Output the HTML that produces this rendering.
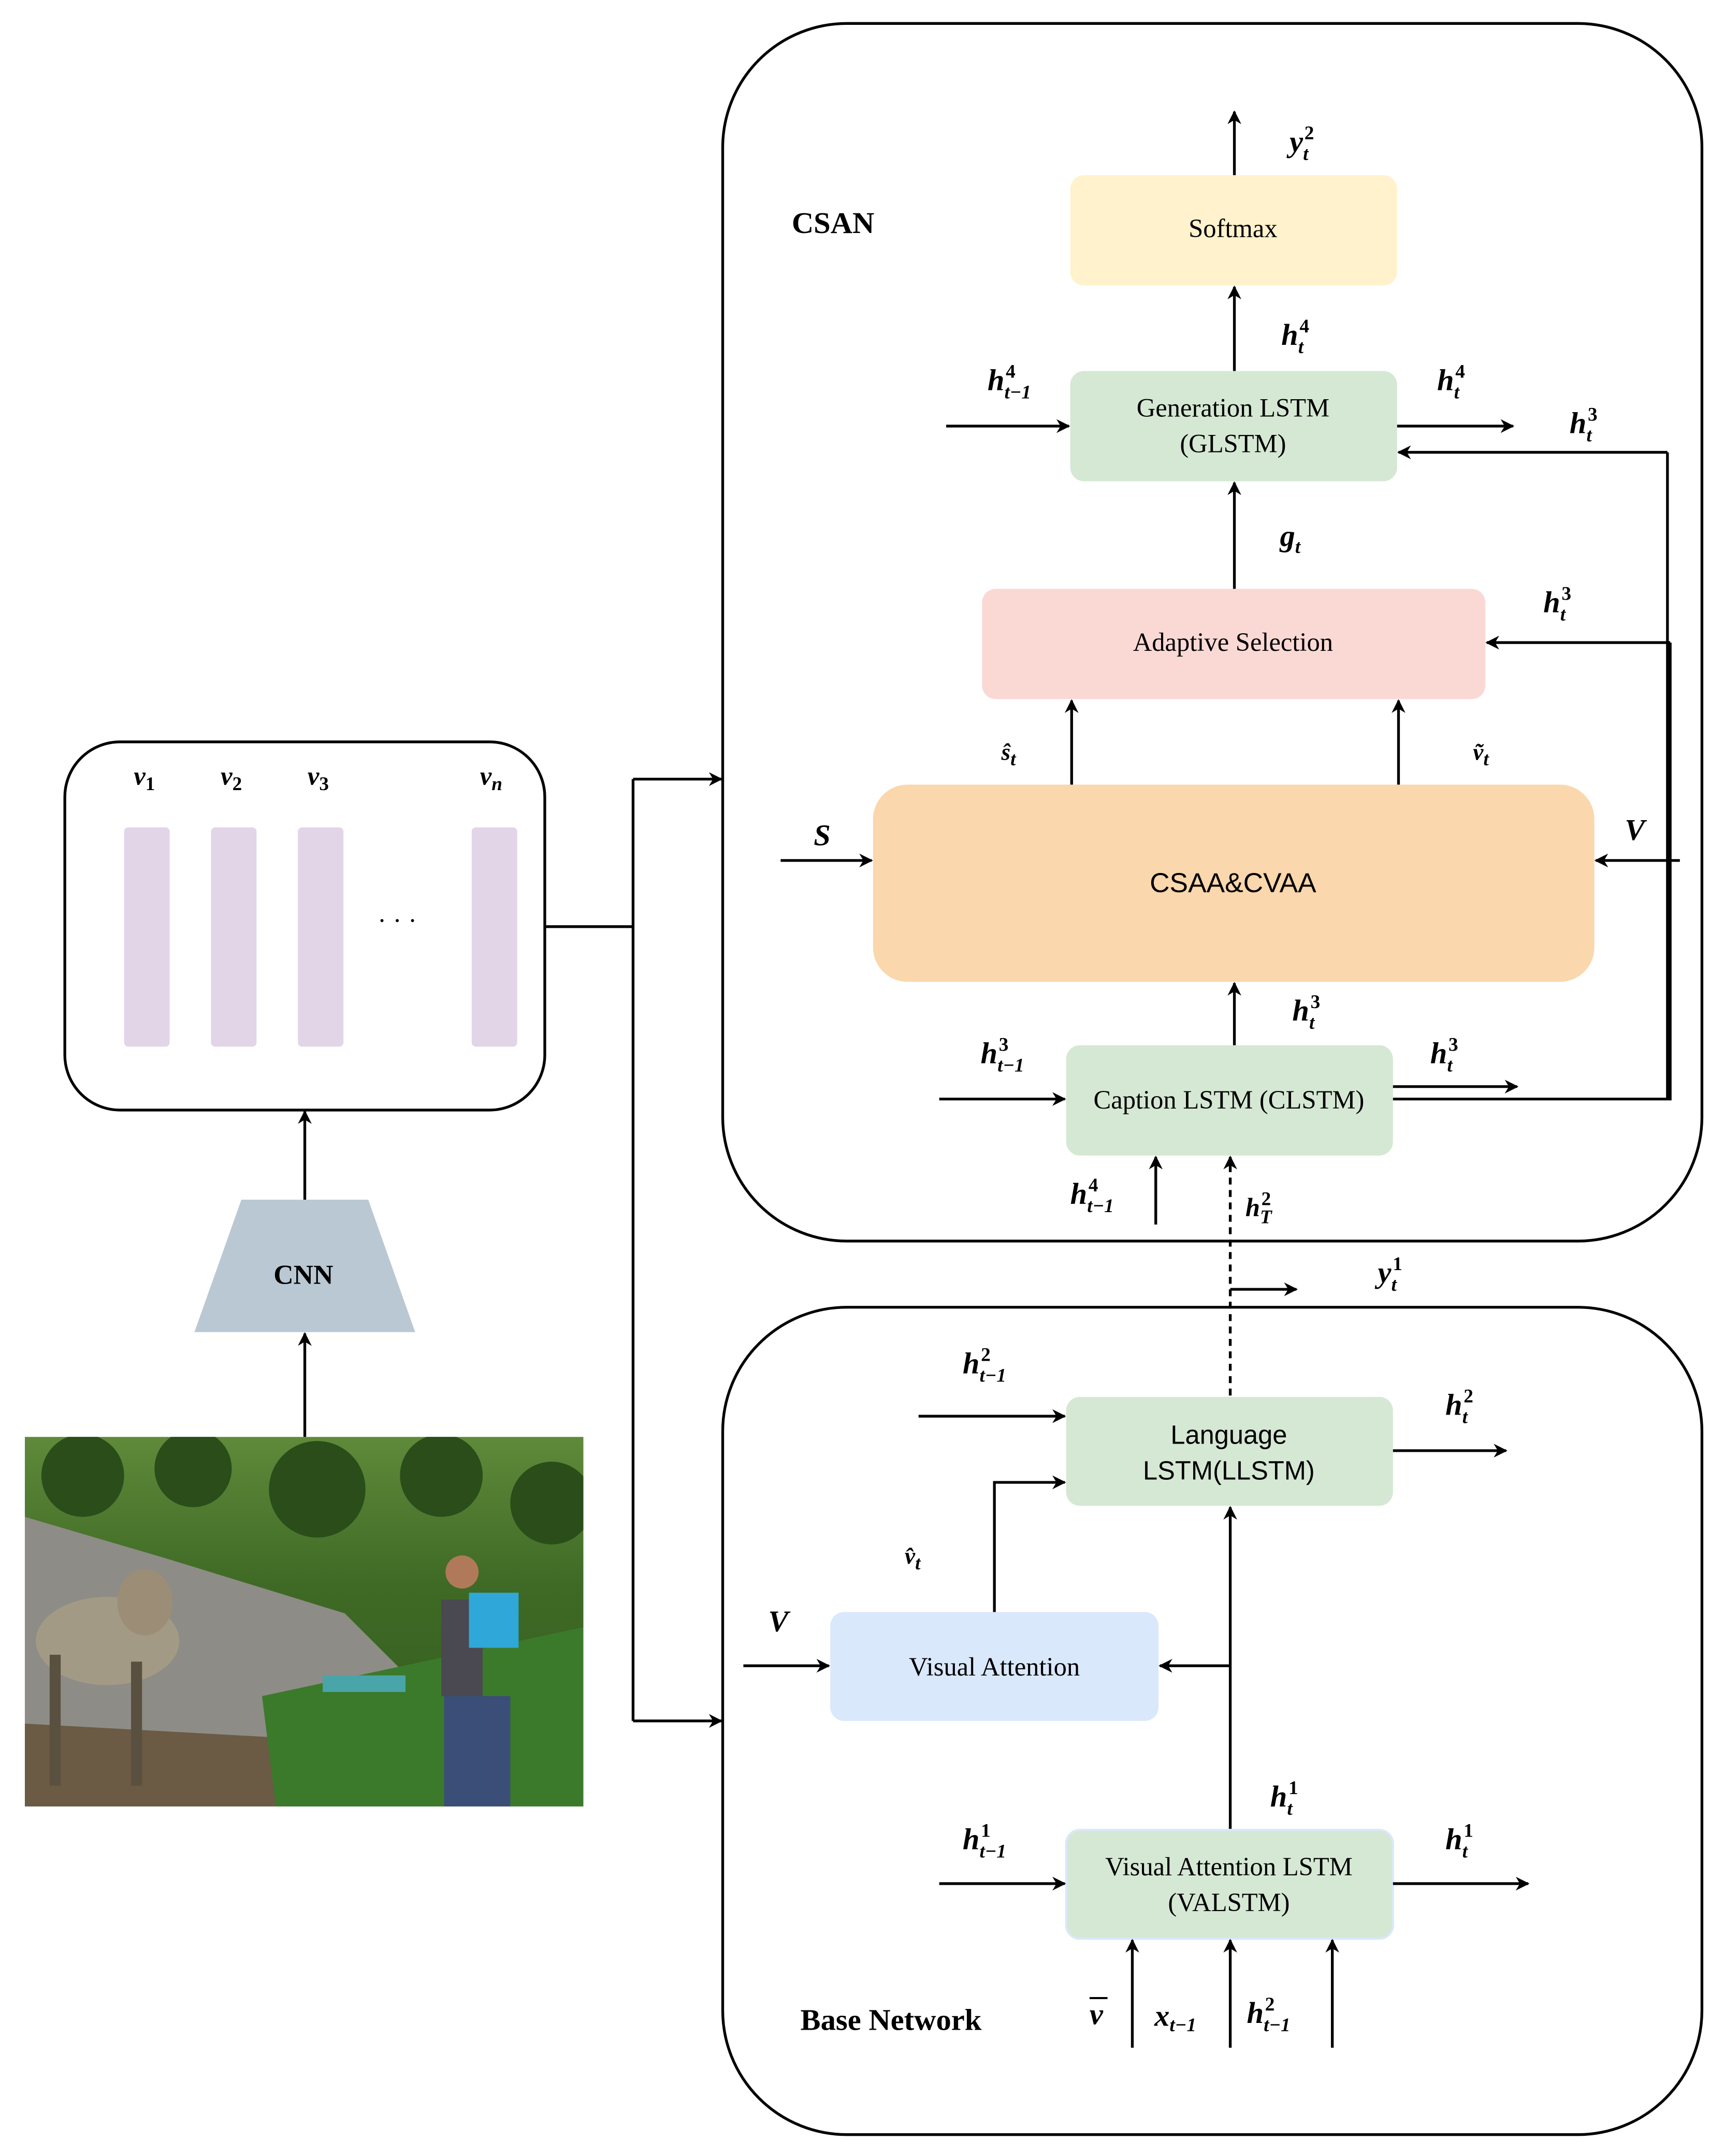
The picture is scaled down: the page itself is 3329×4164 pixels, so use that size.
<!DOCTYPE html>
<html><head><meta charset="utf-8"><style>
html,body{margin:0;padding:0;background:#fff}
svg{display:block}
.m{font-family:"Liberation Serif",serif;font-style:italic;font-weight:bold;font-size:22px}
.s{font-size:14px;font-style:italic}
.n{font-size:14px;font-style:normal}
.t{font-family:"Liberation Serif",serif;font-size:19px;text-anchor:middle}
.ss{font-family:"Liberation Sans",sans-serif;font-size:19px;text-anchor:middle}
.b{font-family:"Liberation Serif",serif;font-weight:bold;font-size:22px;text-anchor:middle}
line,path.l{stroke:#000;stroke-width:2;fill:none}
</style></head><body>
<svg width="3329" height="4164" viewBox="0 0 1250 1563.5" xmlns="http://www.w3.org/2000/svg">
<defs><marker id="a" markerWidth="10" markerHeight="10" refX="9" refY="5" orient="auto" markerUnits="userSpaceOnUse"><path d="M0,0 L10,5 L0,10 L3,5 z" fill="#000"/></marker>
<linearGradient id="g" x1="0" y1="0" x2="0" y2="1"><stop offset="0" stop-color="#5f8a3a"/><stop offset="0.4" stop-color="#3f6a25"/><stop offset="1" stop-color="#2f5a1f"/></linearGradient>
<clipPath id="pc"><rect x="18" y="1042" width="405" height="268"/></clipPath></defs>

<rect x="524" y="17" width="710" height="883" rx="90" fill="#fff" stroke="#000" stroke-width="2"/>
<rect x="524" y="948" width="710" height="600" rx="90" fill="#fff" stroke="#000" stroke-width="2"/>
<text x="604" y="169" class="b">CSAN</text>
<text x="646" y="1472" class="b">Base Network</text>

<rect x="47" y="538" width="348" height="267" rx="40" fill="#fff" stroke="#000" stroke-width="2"/>
<g fill="#e1d5e7"><rect x="90" y="600" width="33" height="159" rx="3"/><rect x="153" y="600" width="33" height="159" rx="3"/><rect x="216" y="600" width="33" height="159" rx="3"/><rect x="342" y="600" width="33" height="159" rx="3"/></g>
<text x="97" y="569" class="m" style="font-size:19px">v<tspan class="n" dy="4">1</tspan></text>
<text x="160" y="569" class="m" style="font-size:19px">v<tspan class="n" dy="4">2</tspan></text>
<text x="223" y="569" class="m" style="font-size:19px">v<tspan class="n" dy="4">3</tspan></text>
<text x="348" y="569" class="m" style="font-size:19px">v<tspan class="s" dy="4">n</tspan></text>
<text x="288" y="674" class="t">· · ·</text>

<polygon points="175,870 267,870 301,966 141,966" fill="#bac8d3"/>
<text x="220" y="931" class="b" style="font-size:20px">CNN</text>
<line x1="221" y1="1042" x2="221" y2="967" marker-end="url(#a)"/>
<line x1="221" y1="870" x2="221" y2="806" marker-end="url(#a)"/>

<g clip-path="url(#pc)">
<rect x="18" y="1042" width="405" height="268" fill="url(#g)"/>
<g fill="#2a4d1a"><circle cx="60" cy="1070" r="30"/><circle cx="140" cy="1065" r="28"/><circle cx="230" cy="1080" r="35"/><circle cx="320" cy="1070" r="30"/><circle cx="400" cy="1090" r="30"/></g>
<path d="M18,1100 L120,1130 L250,1170 L300,1220 L260,1240 L200,1260 L18,1250z" fill="#8e8c86"/>
<path d="M18,1250 L200,1260 L260,1240 L300,1230 L330,1310 L18,1310z" fill="#6b5a44"/>
<path d="M190,1230 L423,1180 L423,1310 L200,1310z" fill="#3b7a2a"/>
<ellipse cx="78" cy="1190" rx="52" ry="32" fill="#a39a86"/>
<rect x="36" y="1200" width="8" height="95" fill="#5a5040"/><rect x="95" y="1205" width="8" height="90" fill="#5a5040"/>
<ellipse cx="105" cy="1162" rx="20" ry="24" fill="#9c8e76"/>
<rect x="320" y="1160" width="30" height="70" fill="#4a4850"/><circle cx="335" cy="1140" r="12" fill="#b07a5a"/>
<rect x="340" y="1155" width="36" height="40" fill="#2fa7d8"/><rect x="322" y="1230" width="48" height="80" fill="#3a4e78"/>
<rect x="234" y="1215" width="60" height="12" fill="#4aa5a8"/>
</g>

<path class="l" d="M395,672 L459,672"/>
<path class="l" d="M459,565 L459,1248"/>
<line x1="459" y1="565" x2="523" y2="565" marker-end="url(#a)"/>
<line x1="459" y1="1248" x2="523" y2="1248" marker-end="url(#a)"/>

<rect x="776" y="127" width="237" height="80" rx="10" fill="#fff2cc"/>
<text x="894" y="172" class="t">Softmax</text>
<line x1="895" y1="127" x2="895" y2="81" marker-end="url(#a)"/>
<text x="935" y="110" class="m">y<tspan class="n" dx="1" dy="-9">2</tspan><tspan class="s" dx="-8" dy="15">t</tspan></text>

<rect x="776" y="269" width="237" height="80" rx="10" fill="#d5e8d4"/>
<text x="894" y="302" class="t">Generation LSTM</text>
<text x="894" y="328" class="t">(GLSTM)</text>
<line x1="895" y1="269" x2="895" y2="208" marker-end="url(#a)"/>
<text x="929" y="250" class="m">h<tspan class="n" dx="1" dy="-9">4</tspan><tspan class="s" dx="-8" dy="15">t</tspan></text>
<line x1="686" y1="309" x2="775" y2="309" marker-end="url(#a)"/>
<text x="716" y="283" class="m">h<tspan class="n" dx="1" dy="-9">4</tspan><tspan class="s" dx="-8" dy="15">t−1</tspan></text>
<line x1="1013" y1="309" x2="1097" y2="309" marker-end="url(#a)"/>
<text x="1042" y="283" class="m">h<tspan class="n" dx="1" dy="-9">4</tspan><tspan class="s" dx="-8" dy="15">t</tspan></text>
<text x="1138" y="314" class="m">h<tspan class="n" dx="1" dy="-9">3</tspan><tspan class="s" dx="-8" dy="15">t</tspan></text>
<line x1="1209" y1="328" x2="1014" y2="328" marker-end="url(#a)"/>
<path class="l" d="M1209,328 L1209,797"/>

<rect x="712" y="427" width="365" height="80" rx="10" fill="#fad9d5"/>
<text x="894" y="472" class="t">Adaptive Selection</text>
<line x1="895" y1="427" x2="895" y2="350" marker-end="url(#a)"/>
<text x="928" y="396" class="m">g<tspan class="s" dy="5">t</tspan></text>
<line x1="1211" y1="466" x2="1078" y2="466" marker-end="url(#a)"/>
<text x="1119" y="444" class="m">h<tspan class="n" dx="1" dy="-9">3</tspan><tspan class="s" dx="-8" dy="15">t</tspan></text>

<rect x="633" y="569" width="523" height="143" rx="25" fill="#fad7ac"/>
<text x="894" y="647" class="ss" style="font-size:20px">CSAA&amp;CVAA</text>
<line x1="777" y1="569" x2="777" y2="508" marker-end="url(#a)"/>
<line x1="1014" y1="569" x2="1014" y2="508" marker-end="url(#a)"/>
<text x="726" y="551" class="m" style="font-size:17px">ŝ<tspan class="s" dy="4">t</tspan></text>
<text x="1068" y="551" class="m" style="font-size:17px">ṽ<tspan class="s" dy="4">t</tspan></text>
<line x1="566" y1="624" x2="632" y2="624" marker-end="url(#a)"/>
<text x="590" y="613" class="m">S</text>
<line x1="1218" y1="624" x2="1157" y2="624" marker-end="url(#a)"/>
<text x="1178" y="609" class="m">V</text>

<rect x="773" y="758" width="237" height="80" rx="10" fill="#d5e8d4"/>
<text x="891" y="804" class="t">Caption LSTM (CLSTM)</text>
<line x1="895" y1="758" x2="895" y2="713" marker-end="url(#a)"/>
<text x="937" y="740" class="m">h<tspan class="n" dx="1" dy="-9">3</tspan><tspan class="s" dx="-8" dy="15">t</tspan></text>
<line x1="681" y1="797" x2="772" y2="797" marker-end="url(#a)"/>
<text x="711" y="771" class="m">h<tspan class="n" dx="1" dy="-9">3</tspan><tspan class="s" dx="-8" dy="15">t−1</tspan></text>
<line x1="1010" y1="788" x2="1100" y2="788" marker-end="url(#a)"/>
<text x="1037" y="771" class="m">h<tspan class="n" dx="1" dy="-9">3</tspan><tspan class="s" dx="-8" dy="15">t</tspan></text>
<path class="l" d="M1010,797 L1211,797 L1211,466"/>
<line x1="838" y1="888" x2="838" y2="839" marker-end="url(#a)"/>
<text x="776" y="873" class="m">h<tspan class="n" dx="1" dy="-9">4</tspan><tspan class="s" dx="-8" dy="15">t−1</tspan></text>
<line x1="892" y1="1012" x2="892" y2="839" stroke-dasharray="5,4" marker-end="url(#a)"/>
<text x="903" y="882" class="m" style="font-size:19px">h<tspan class="n" dx="1" dy="-8">2</tspan><tspan class="s" dx="-8" dy="13">T</tspan></text>
<line x1="892" y1="935" x2="940" y2="935" marker-end="url(#a)"/>
<text x="999" y="930" class="m">y<tspan class="n" dx="1" dy="-9">1</tspan><tspan class="s" dx="-8" dy="15">t</tspan></text>

<rect x="773" y="1013" width="237" height="79" rx="10" fill="#d5e8d4"/>
<text x="891" y="1047" class="ss">Language</text>
<text x="891" y="1073" class="ss">LSTM(LLSTM)</text>
<line x1="666" y1="1027" x2="772" y2="1027" marker-end="url(#a)"/>
<text x="698" y="996" class="m">h<tspan class="n" dx="1" dy="-9">2</tspan><tspan class="s" dx="-8" dy="15">t−1</tspan></text>
<line x1="1010" y1="1052" x2="1092" y2="1052" marker-end="url(#a)"/>
<text x="1048" y="1026" class="m">h<tspan class="n" dx="1" dy="-9">2</tspan><tspan class="s" dx="-8" dy="15">t</tspan></text>

<rect x="602" y="1169" width="238" height="79" rx="10" fill="#dae8fc"/>
<text x="721" y="1215" class="t">Visual Attention</text>
<line x1="539" y1="1208" x2="601" y2="1208" marker-end="url(#a)"/>
<text x="557" y="1183" class="m">V</text>
<path class="l" d="M721,1169 L721,1075"/>
<line x1="720" y1="1075" x2="772" y2="1075" marker-end="url(#a)"/>
<text x="656" y="1134" class="m" style="font-size:17px">v̂<tspan class="s" dy="4">t</tspan></text>
<line x1="892" y1="1208" x2="841" y2="1208" marker-end="url(#a)"/>
<line x1="892" y1="1327" x2="892" y2="1093" marker-end="url(#a)"/>

<rect x="773" y="1327" width="237" height="79" rx="10" fill="#d5e8d4" stroke="#dae8fc" stroke-width="1.5"/>
<text x="891" y="1360" class="t">Visual Attention LSTM</text>
<text x="891" y="1386" class="t">(VALSTM)</text>
<text x="921" y="1310" class="m">h<tspan class="n" dx="1" dy="-9">1</tspan><tspan class="s" dx="-8" dy="15">t</tspan></text>
<line x1="681" y1="1366" x2="772" y2="1366" marker-end="url(#a)"/>
<text x="698" y="1341" class="m">h<tspan class="n" dx="1" dy="-9">1</tspan><tspan class="s" dx="-8" dy="15">t−1</tspan></text>
<line x1="1010" y1="1366" x2="1108" y2="1366" marker-end="url(#a)"/>
<text x="1048" y="1341" class="m">h<tspan class="n" dx="1" dy="-9">1</tspan><tspan class="s" dx="-8" dy="15">t</tspan></text>
<line x1="821" y1="1485" x2="821" y2="1407" marker-end="url(#a)"/>
<line x1="892" y1="1485" x2="892" y2="1407" marker-end="url(#a)"/>
<line x1="966" y1="1485" x2="966" y2="1407" marker-end="url(#a)"/>
<text x="790" y="1468" class="m">v</text><line x1="790" y1="1449" x2="803" y2="1449" style="stroke-width:1.5"/>
<text x="837" y="1469" class="m">x<tspan class="s" dy="4">t−1</tspan></text>
<text x="904" y="1467" class="m">h<tspan class="n" dx="1" dy="-9">2</tspan><tspan class="s" dx="-8" dy="15">t−1</tspan></text>
</svg>
</body></html>
